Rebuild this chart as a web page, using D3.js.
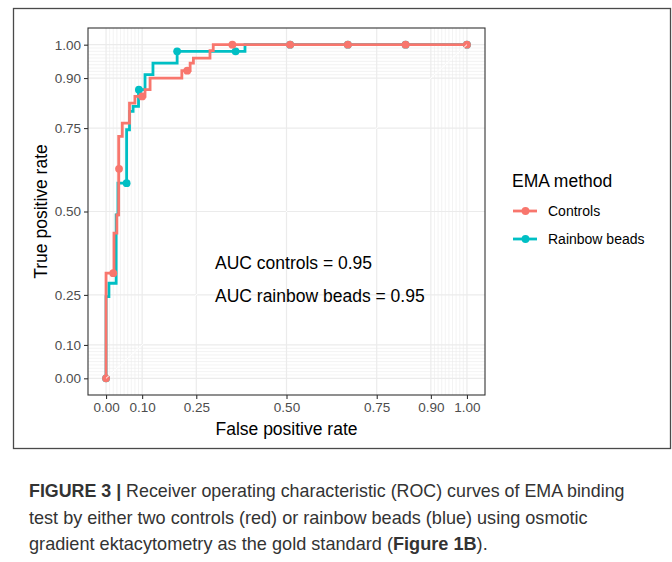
<!DOCTYPE html>
<html>
<head>
<meta charset="utf-8">
<script src="https://cdn.jsdelivr.net/npm/d3@7"></script>
<style>
  body { margin: 0; background: #fff; }
  svg { display: block; font-family: "Liberation Sans", Arial, sans-serif; }
</style>
</head>
<body>
<svg id="chart" width="672" height="562"></svg>
<script>
// axis breaks (same on both axes)
var breaks = [0, 0.1, 0.25, 0.5, 0.75, 0.9, 1];
var minorBreaks = d3.range(0, 101).map(function (i) { return i / 100; })
  .filter(function (v) { return (v < 0.1 || v > 0.9) && v !== 0 && v !== 1; });

var seriesNames = ["Controls", "Rainbow beads"];
var seriesColors = ["#F8766D", "#00BFC4"];

// ROC steps: each point = (fpr after moving right, tpr reached before moving right)
var controlsFpr = [0, 0.022, 0.030, 0.035, 0.045, 0.065, 0.080, 0.108, 0.122, 0.210, 0.233, 0.242, 0.288, 0.297, 1];
var controlsTpr = [0, 0.315, 0.435, 0.490, 0.725, 0.765, 0.825, 0.845, 0.865, 0.900, 0.922, 0.945, 0.960, 0.982, 1];
var beadsFpr = [0, 0.008, 0.028, 0.033, 0.057, 0.065, 0.075, 0.090, 0.108, 0.130, 0.197, 0.385, 1];
var beadsTpr = [0, 0.245, 0.285, 0.490, 0.585, 0.745, 0.800, 0.815, 0.865, 0.910, 0.945, 0.980, 1];

// cutoff points
var controlsCutFpr = [0, 0.020, 0.036, 0.100, 0.225, 0.350, 0.510, 0.670, 0.830, 1];
var controlsCutTpr = [0, 0.315, 0.628, 0.845, 0.922, 1, 1, 1, 1, 1];
var beadsCutFpr = [0, 0.057, 0.091, 0.197, 0.359, 0.510, 0.670, 0.830, 1];
var beadsCutTpr = [0, 0.585, 0.865, 0.980, 0.980, 1, 1, 1, 1];

var aucLabels = ["AUC controls = 0.95", "AUC rainbow beads = 0.95"];
var captionLines = [
  [["FIGURE 3 | ", true], ["Receiver operating characteristic (ROC) curves of EMA binding", false]],
  [["test by either two controls (red) or rainbow beads (blue) using osmotic", false]],
  [["gradient ektacytometry as the gold standard (", false], ["Figure 1B", true], [").", false]]
];

var svg = d3.select("#chart");

// figure frame
svg.append("rect").attr("x", 13.5).attr("y", 8.5).attr("width", 657).attr("height", 440)
  .attr("fill", "none").attr("stroke", "#4a4a4a").attr("stroke-width", 1.3);

var panel = { left: 88, right: 485, top: 28, bottom: 395 };
var x = d3.scaleLinear().domain([-0.05, 1.05]).range([panel.left, panel.right]);
var y = d3.scaleLinear().domain([-0.05, 1.05]).range([panel.bottom, panel.top]);

var g = svg.append("g");

// grid
g.selectAll(".minx").data(minorBreaks).enter().append("line")
  .attr("x1", d => x(d)).attr("x2", d => x(d)).attr("y1", panel.top).attr("y2", panel.bottom)
  .attr("stroke", "#ebebeb").attr("stroke-width", 0.6);
g.selectAll(".miny").data(minorBreaks).enter().append("line")
  .attr("y1", d => y(d)).attr("y2", d => y(d)).attr("x1", panel.left).attr("x2", panel.right)
  .attr("stroke", "#ebebeb").attr("stroke-width", 0.6);
g.selectAll(".majx").data(breaks).enter().append("line")
  .attr("x1", d => x(d)).attr("x2", d => x(d)).attr("y1", panel.top).attr("y2", panel.bottom)
  .attr("stroke", "#ebebeb").attr("stroke-width", 1.2);
g.selectAll(".majy").data(breaks).enter().append("line")
  .attr("y1", d => y(d)).attr("y2", d => y(d)).attr("x1", panel.left).attr("x2", panel.right)
  .attr("stroke", "#ebebeb").attr("stroke-width", 1.2);

// curves
var line = d3.line().x(d => x(d[0])).y(d => y(d[1])).curve(d3.curveStepBefore);
var series = [
  { fpr: beadsFpr, tpr: beadsTpr, cf: beadsCutFpr, ct: beadsCutTpr, color: seriesColors[1] },
  { fpr: controlsFpr, tpr: controlsTpr, cf: controlsCutFpr, ct: controlsCutTpr, color: seriesColors[0] }
];
series.forEach(function (s) {
  var pts = s.fpr.map((f, i) => [f, s.tpr[i]]);
  g.append("path").attr("d", line(pts)).attr("fill", "none")
    .attr("stroke", s.color).attr("stroke-width", 2.8).attr("stroke-linejoin", "miter");
  g.selectAll(null).data(s.cf.map((f, i) => [f, s.ct[i]])).enter().append("circle")
    .attr("cx", d => x(d[0])).attr("cy", d => y(d[1])).attr("r", 3.9).attr("fill", s.color);
});

// diagonal guide drawn on top
g.append("line").attr("x1", x(0)).attr("y1", y(0)).attr("x2", x(1)).attr("y2", y(1))
  .attr("stroke", "#ffffff").attr("stroke-width", 1);

// panel border
g.append("rect").attr("x", panel.left).attr("y", panel.top)
  .attr("width", panel.right - panel.left).attr("height", panel.bottom - panel.top)
  .attr("fill", "none").attr("stroke", "#333333").attr("stroke-width", 1.1);

// axes
var fmt = d3.format(".2f");
var xAxis = svg.append("g").attr("transform", "translate(0," + panel.bottom + ")")
  .call(d3.axisBottom(x).tickValues(breaks).tickFormat(fmt).tickSize(4).tickPadding(3));
var yAxis = svg.append("g").attr("transform", "translate(" + panel.left + ",0)")
  .call(d3.axisLeft(y).tickValues(breaks).tickFormat(fmt).tickSize(4).tickPadding(3));
[xAxis, yAxis].forEach(function (a) {
  a.select(".domain").remove();
  a.selectAll(".tick line").attr("stroke", "#333333").attr("stroke-width", 1.1);
  a.selectAll(".tick text").attr("fill", "#4d4d4d").style("font-size", "13.5px")
    .style("font-family", "'Liberation Sans', Arial, sans-serif");
});

svg.append("text").attr("x", (x(-0.05) + x(1.05)) / 2).attr("y", 435)
  .attr("text-anchor", "middle").style("font-size", "17.5px").text("False positive rate");
svg.append("text").attr("transform", "translate(47," + (y(-0.05) + y(1.05)) / 2 + ") rotate(-90)")
  .attr("text-anchor", "middle").style("font-size", "17.5px").text("True positive rate");

// AUC annotations
svg.selectAll(".auc").data(aucLabels).enter().append("text")
  .attr("x", 215).attr("y", (d, i) => 269 + i * 32.5)
  .style("font-size", "17.5px").text(d => d);

// legend
var leg = svg.append("g");
leg.append("text").attr("x", 512).attr("y", 187).style("font-size", "17.5px").text("EMA method");
seriesNames.forEach(function (name, i) {
  var ly = 211 + i * 28;
  leg.append("line").attr("x1", 513).attr("x2", 537).attr("y1", ly).attr("y2", ly)
    .attr("stroke", seriesColors[i]).attr("stroke-width", 2.8);
  leg.append("circle").attr("cx", 525.5).attr("cy", ly).attr("r", 3.9).attr("fill", seriesColors[i]);
  leg.append("text").attr("x", 548).attr("y", ly + 5).style("font-size", "14px").text(name);
});

// caption
var capWidths = [596, 559, 459];
captionLines.forEach(function (parts, i) {
  var t = svg.append("text").attr("y", 0).style("font-size", "18px").attr("fill", "#333333");
  parts.forEach(function (p) {
    t.append("tspan").text(p[0]).style("font-weight", p[1] ? "bold" : "normal");
  });
  var w = t.node().getComputedTextLength();
  t.attr("transform", "translate(29," + (497 + i * 26.5) + ") scale(" + (capWidths[i] / w) + ",1)");
});
</script>
</body>
</html>
